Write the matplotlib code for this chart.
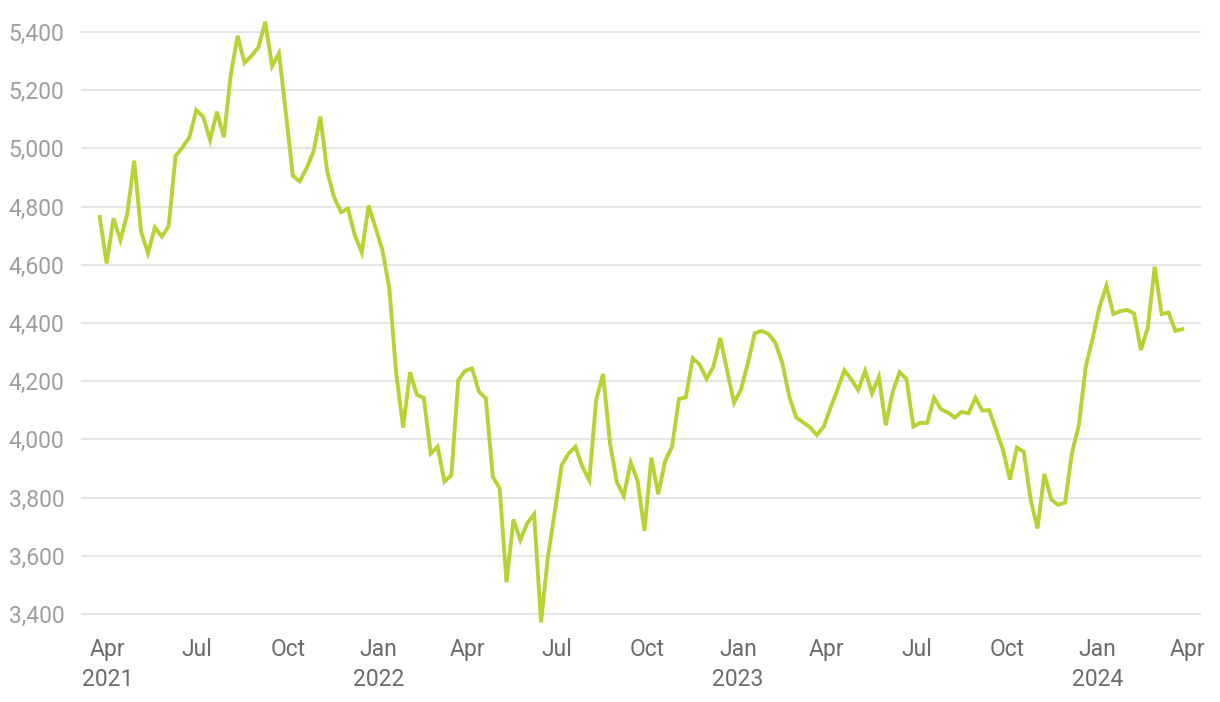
import numpy as np
import pandas as pd
import matplotlib
matplotlib.use("Agg")
import matplotlib.pyplot as plt
import matplotlib.dates as mdates
from matplotlib.ticker import FuncFormatter

# weekly values, late Mar 2021 - late Mar 2024
start_date = "2021-03-24"
values = [
    4765, 4605, 4760, 4685, 4775, 4958, 4714, 4640, 4729, 4697,
    4733, 4974, 5004, 5038, 5132, 5109, 5029, 5126, 5038, 5252,
    5387, 5294, 5318, 5347, 5435, 5283, 5327, 5121, 4906, 4887,
    4932, 4989, 5109, 4920, 4832, 4781, 4793, 4702, 4642, 4804,
    4728, 4651, 4519, 4227, 4041, 4231, 4153, 4143, 3952, 3975,
    3855, 3878, 4204, 4236, 4244, 4164, 4141, 3872, 3832, 3509,
    3725, 3654, 3712, 3743, 3371, 3597, 3752, 3912, 3952, 3975,
    3906, 3860, 4136, 4225, 3988, 3853, 3806, 3921, 3858, 3686,
    3937, 3812, 3926, 3975, 4139, 4145, 4279, 4258, 4208, 4250,
    4349, 4235, 4126, 4172, 4262, 4365, 4373, 4362, 4332, 4262,
    4147, 4076, 4059, 4042, 4015, 4044, 4110, 4172, 4238, 4206,
    4170, 4236, 4158, 4215, 4049, 4164, 4231, 4208, 4044, 4057,
    4057, 4143, 4104, 4093, 4075, 4095, 4090, 4143, 4099, 4101,
    4032, 3964, 3862, 3972, 3958, 3795, 3694, 3881, 3794, 3775,
    3783, 3954, 4049, 4250, 4347, 4456, 4528, 4431, 4441, 4445,
    4433, 4307, 4385, 4593, 4431, 4436, 4373, 4379,
]
dates = pd.date_range(start_date, periods=len(values), freq="7D")

y_ticks = [3400, 3600, 3800, 4000, 4200, 4400, 4600, 4800, 5000, 5200, 5400]
x_ticks = ["2021-04-01", "2021-07-01", "2021-10-01", "2022-01-01", "2022-04-01",
           "2022-07-01", "2022-10-01", "2023-01-01", "2023-04-01", "2023-07-01",
           "2023-10-01", "2024-01-01", "2024-04-01"]
x_labels = ["Apr\n2021", "Jul", "Oct", "Jan\n2022", "Apr", "Jul", "Oct",
            "Jan\n2023", "Apr", "Jul", "Oct", "Jan\n2024", "Apr"]

plt.rcParams["font.family"] = ["Roboto", "DejaVu Sans"]

fig = plt.figure(figsize=(12.2, 7.02), dpi=100)
ax = fig.add_axes([81 / 1220, 73.4 / 702, 1120 / 1220, 611.1 / 702])

ax.plot(dates, values, color="#b5d334", lw=2.8, solid_joinstyle="miter", zorder=3)

ax.set_ylim(3350, 5450)
ax.set_xlim(pd.Timestamp("2021-03-05"), pd.Timestamp("2024-04-15"))
ax.set_yticks(y_ticks)
ax.yaxis.set_major_formatter(FuncFormatter(lambda v, p: f"{v:,.0f}"))
ax.set_xticks(pd.to_datetime(x_ticks))
ax.set_xticklabels(x_labels, linespacing=1.35)

ax.grid(axis="y", color="#e2e2e2", lw=1.2, zorder=0)
ax.grid(axis="x", visible=False)
for s in ax.spines.values():
    s.set_visible(False)
ax.tick_params(axis="y", length=0, pad=12, labelsize=16.5, labelcolor="#9e9e9e")
ax.tick_params(axis="x", length=0, pad=7, labelsize=16.5, labelcolor="#6b6b6b")

fig.savefig("out.png", dpi=100)
